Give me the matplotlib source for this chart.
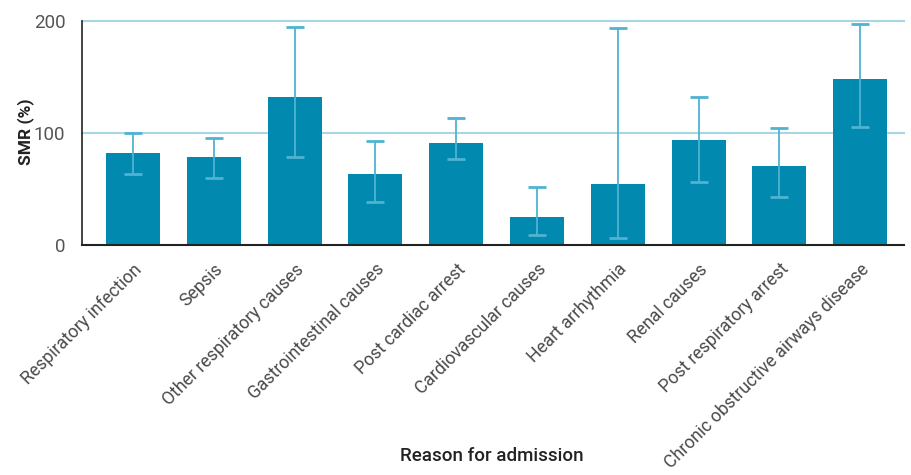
import numpy as np
import matplotlib.pyplot as plt

plt.rcParams['font.family'] = ['Roboto', 'DejaVu Sans']

reasons = ['Respiratory infection', 'Sepsis', 'Other respiratory causes',
           'Gastrointestinal causes', 'Post cardiac arrest', 'Cardiovascular causes',
           'Heart arrhythmia', 'Renal causes', 'Post respiratory arrest',
           'Chronic obstructive airways disease']
smr = [82, 78.5, 132, 63.5, 91, 25, 54.5, 93.5, 70.5, 148]
ci_low = [63.5, 60, 79, 38.5, 77, 8.5, 6.5, 56.5, 42.5, 105.5]
ci_high = [100, 95.5, 195, 93, 113.5, 52, 194, 132, 104.5, 197.5]

bar_col = '#0189b0'
err_col = '#4fb3d1'
grid_col = '#a6d7e3'

fig = plt.figure(figsize=(9.12, 4.75), dpi=100)
ax = fig.add_axes([0.0899, 0.4842, 0.9011, 0.4716])

x = np.arange(len(reasons))
smr_a = np.array(smr)
yerr = [smr_a - np.array(ci_low), np.array(ci_high) - smr_a]

for yv in [100, 200]:
    ax.axhline(yv, color=grid_col, lw=1.5, zorder=0, clip_on=False)

ax.bar(x, smr, width=0.67, color=bar_col, zorder=2)
ax.errorbar(x, smr, yerr=yerr, fmt='none', ecolor=err_col, elinewidth=1.3,
            capsize=6.5, capthick=2, zorder=3)

ax.set_xlim(-0.632, 9.54)
ax.set_ylim(0, 200)
ax.set_yticks([0, 100, 200])
ax.set_xticks(x)
ax.set_xticklabels(reasons, rotation=45, ha='right', rotation_mode='anchor',
                   fontsize=12.7, color='#4a4a4a')
ax.tick_params(axis='both', length=0)
ax.tick_params(axis='x', pad=11)
ax.tick_params(axis='y', pad=12, labelsize=13.5, labelcolor='#555555')

for s in ['top', 'right']:
    ax.spines[s].set_visible(False)
ax.spines['left'].set_color('#222222')
ax.spines['bottom'].set_color('#222222')
ax.spines['left'].set_linewidth(1.2)
ax.spines['bottom'].set_linewidth(1.5)

ax.set_xlabel('Reason for admission', fontsize=13.5, fontweight='medium', color='#222222')
ax.xaxis.set_label_coords(0.499, -0.9)
ax.set_ylabel('SMR (%)', fontsize=12.5, fontweight='bold', color='#222222')
ax.yaxis.set_label_coords(-0.058, 0.504)

plt.savefig('out.png', dpi=100)
